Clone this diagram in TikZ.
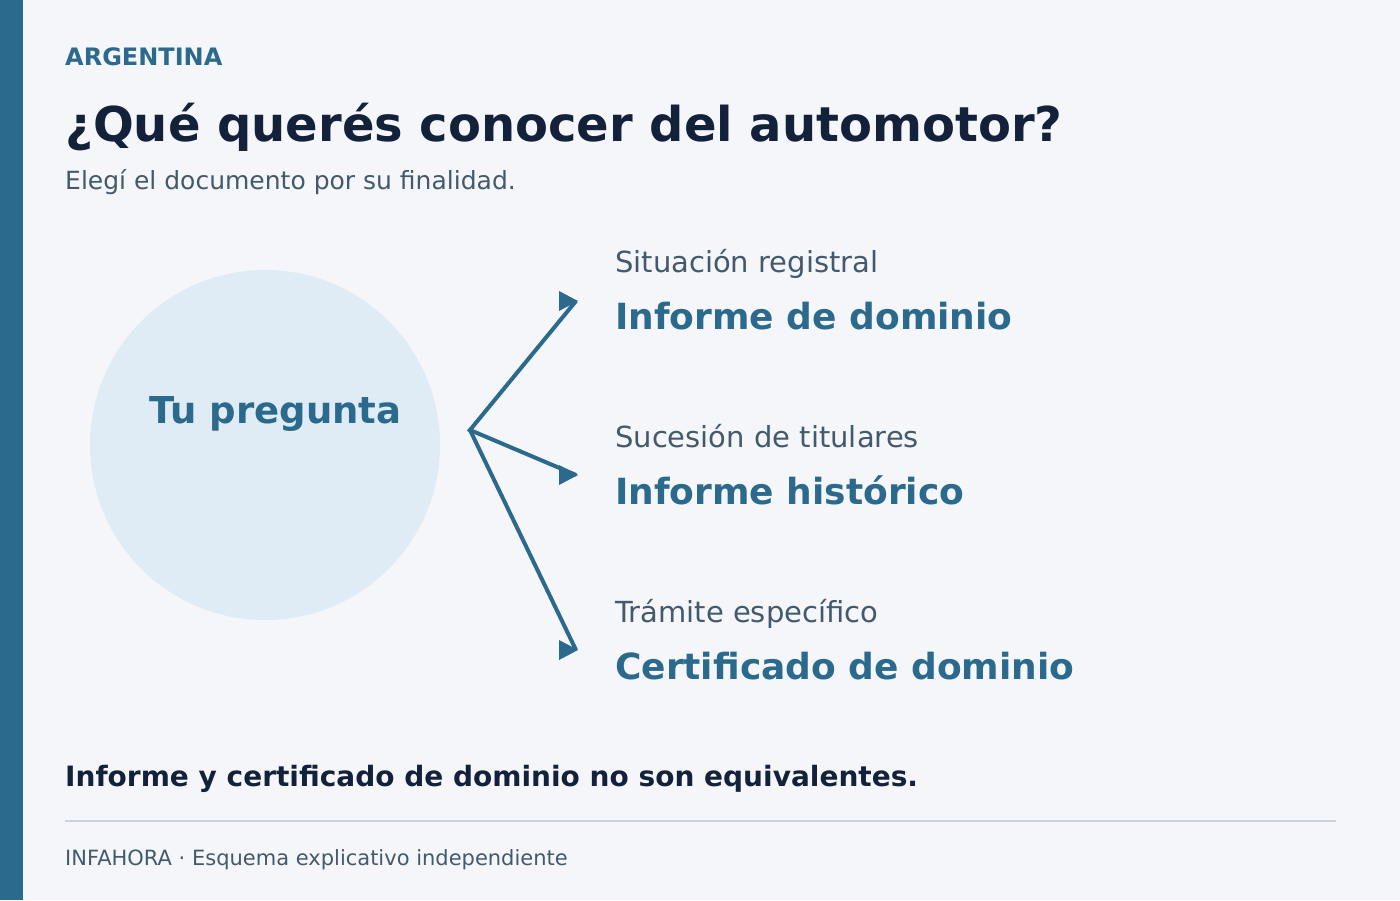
\documentclass[tikz,border=0pt]{standalone}
\usepackage{fontspec}
\setmainfont{DejaVu Sans}
\definecolor{bg}{HTML}{F4F6FA}
\definecolor{accent}{HTML}{2B6A8C}
\definecolor{ink}{HTML}{14213A}
\definecolor{muted}{HTML}{44596B}
\definecolor{bubble}{HTML}{DFECF5}
\definecolor{rulec}{HTML}{CBD3DD}
\tikzset{
  lbl/.style={anchor=base west, inner sep=0pt, text=muted},
  doc/.style={anchor=base west, inner sep=0pt, text=accent, font=\fontsize{36}{40}\selectfont\bfseries},
  sub/.style={anchor=base west, inner sep=0pt, text=muted, font=\fontsize{29}{33}\selectfont},
  link/.style={draw=accent, line width=4pt, line join=miter},
}
\begin{document}
\begin{tikzpicture}[x=1pt,y=-1pt]
\useasboundingbox (0,0) rectangle (1400,900);
\fill[bg] (0,0) rectangle (1400,900);
\fill[accent] (0,0) rectangle (23,900);
\node[lbl, text=accent, font=\fontsize{24}{28}\selectfont\bfseries] (country) at (65,65) {ARGENTINA};
\node[lbl, text=ink, font=\fontsize{48}{54}\selectfont\bfseries] (title) at (65,141) {¿Qué querés conocer del automotor?};
\node[lbl, font=\fontsize{25}{29}\selectfont] (subtitle) at (65,189) {Elegí el documento por su finalidad.};
\node[circle, fill=bubble, minimum size=350pt, inner sep=0pt] (q) at (265,445) {};
\node[anchor=base, inner sep=0pt, text=accent, font=\fontsize{37}{41}\selectfont\bfseries] (qt) at (275.5,423) {Tu pregunta};
\coordinate (hub) at (470,430);
\coordinate (e1) at (576,301);
\coordinate (e2) at (576,475);
\coordinate (e3) at (576,650);
\draw[link] (e1) -- (hub) -- (e2);
\draw[link] (hub) -- (e3);
\foreach \e in {e1,e2,e3}{
  \fill[accent] (\e) ++(-17,-10) -- ++(19,10) -- ++(-19,10) -- cycle;
}
\node[sub] (s1) at (615,272) {Situación registral};
\node[doc] (d1) at (615,329) {Informe de dominio};
\node[sub] (s2) at (615,447) {Sucesión de titulares};
\node[doc] (d2) at (615,504) {Informe histórico};
\node[sub] (s3) at (615,622) {Trámite específico};
\node[doc] (d3) at (615,679) {Certificado de dominio};
\node[lbl, text=ink, font=\fontsize{28}{32}\selectfont\bfseries] (note) at (65,786) {Informe y certificado de dominio no son equivalentes.};
\draw[rulec, line width=2pt] (65,821) -- (1336,821);
\node[lbl, font=\fontsize{21}{25}\selectfont] (foot) at (65,865) {INFAHORA · Esquema explicativo independiente};
\end{tikzpicture}
\end{document}
